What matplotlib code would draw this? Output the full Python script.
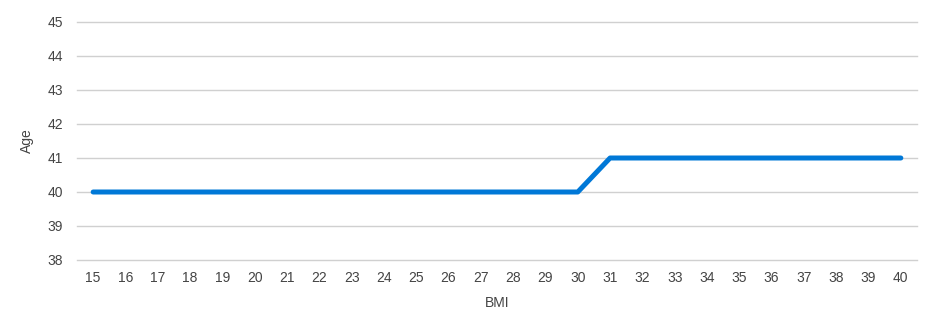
import matplotlib
matplotlib.use("Agg")
import matplotlib.pyplot as plt

bmi = [str(v) for v in range(15, 41)]
age = [40]*16 + [41]*10
y_ticks = [38, 39, 40, 41, 42, 43, 44, 45]

plt.rcParams['font.family'] = ['Liberation Sans', 'DejaVu Sans']
fig = plt.figure(figsize=(9.39, 3.16), dpi=100)
ax = fig.add_axes([77/939, 1-260/316, (917-77)/939, (260-22)/316])
x = list(range(len(bmi)))
ax.plot(x, age, color='#0078d7', linewidth=3.6, solid_capstyle='round', zorder=3)
ax.set_xlim(-0.5, len(bmi)-0.5)
ax.set_ylim(38, 45)
ax.set_yticks(y_ticks)
ax.set_xticks(x)
ax.set_xticklabels(bmi)
ax.grid(axis='y', color='#d0d0d0', linewidth=1)
for gl in ax.get_ygridlines():
    gl.set_clip_on(False)
ax.set_axisbelow(True)
for s in ax.spines.values():
    s.set_visible(False)
ax.tick_params(length=0, labelsize=10, colors='#444444', pad=8)
ax.tick_params(axis='y', pad=10)
ax.set_xlabel('BMI', fontsize=10, color='#444444', labelpad=8)
ax.set_ylabel('Age', fontsize=10, color='#444444', labelpad=10)
fig.savefig('out.png', dpi=100, facecolor='white')
